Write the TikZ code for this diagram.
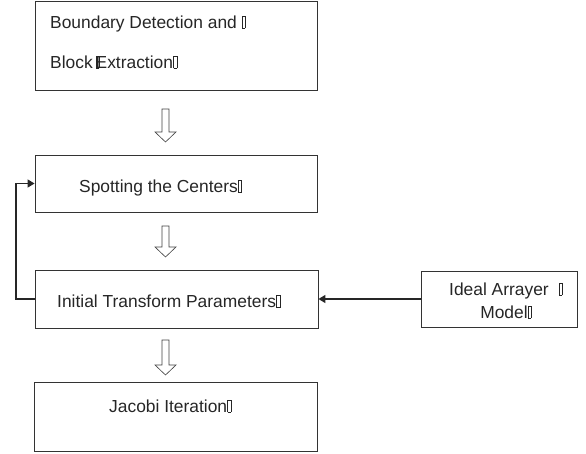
\documentclass[tikz,border=0pt]{standalone}
\usepackage{fontspec}
\setmainfont{Liberation Sans}
\usetikzlibrary{arrows.meta}
\newcommand{\tofu}{\hbox{\vrule width0.5pt\vbox{\hrule height0.5pt\hbox to 3pt{\vrule height11.5pt width0pt\hfil}\hrule height0.5pt}\vrule width0.5pt}}
\tikzset{
  box/.style={draw=black!80, line width=0.9pt, rectangle, inner sep=0pt},
  txt/.style={anchor=base west, inner sep=0pt, text=black!85, font=\fontsize{17.4}{20}\selectfont},
  hollow/.style={draw=black!75, line width=0.6pt, fill=white},
  link/.style={draw=black!85, line width=1.3pt, -{Triangle[length=7pt,width=8pt]}}
}
\begin{document}
\begin{tikzpicture}[x=1pt,y=-1pt]
\useasboundingbox (0,0) rectangle (586,454);
% boxes
\node[box, minimum width=282pt, minimum height=89pt] (b1) at (176,45.5) {};
\node[box, minimum width=282pt, minimum height=57pt] (b2) at (176,183.5) {};
\node[box, minimum width=283pt, minimum height=58pt] (b3) at (176.5,299) {};
\node[box, minimum width=283pt, minimum height=69pt] (b4) at (175.5,416.5) {};
\node[box, minimum width=156pt, minimum height=56pt] (b5) at (499,299) {};
% texts
\node[txt] (t1a) at (50,28.5) {Boundary Detection and \tofu};
\node[txt] (t1b) at (50,68.5) {Block\,\rlap{\tofu}Extraction\tofu};
\node[txt] (t2) at (79,193) {Spotting the Centers\tofu};
\node[txt] (t3) at (57,307.5) {Initial Transform Parameters\tofu};
\node[txt, anchor=base] (t5a) at (506,295) {Ideal Arrayer\hspace{10pt}\tofu};
\node[txt, anchor=base] (t5b) at (506,318) {Model\tofu};
\node[txt] (t4) at (109,412) {Jacobi Iteration\tofu};
% hollow arrows
\foreach \top/\base/\tip [count=\i] in {109/132/142, 226/247/257, 340/365/375}{
  \coordinate (h\i) at (165.5,\top);
  \draw[hollow] (162,\top) -- (169,\top) -- (169,\base) -- (176,\base) -- (165.5,\tip)
    -- (155,\base) -- (162,\base) -- cycle;
}
% connectors
\draw[link] (b3.west) -- (16,299) |- (b2.west);
\draw[link] (b5.west) -- (b3.east);
\end{tikzpicture}
\end{document}
